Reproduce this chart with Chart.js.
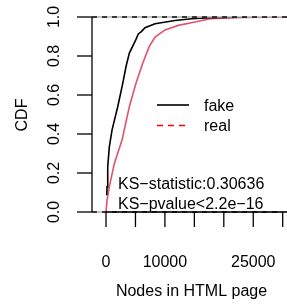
<!DOCTYPE html>
<html><head><meta charset="utf-8">
<script src="https://cdn.jsdelivr.net/npm/chart.js@4/dist/chart.umd.min.js"></script>
<style>html,body{margin:0;padding:0;background:#fff;}canvas{display:block;}</style>
</head><body>
<canvas id="c" width="287" height="305"></canvas>
<script>
// ---- data ----
const fakeNodes = [120, 170, 290, 560, 1020, 1500, 1990, 2840, 3400, 3960, 5090, 5480, 6000, 6620, 8320, 11720, 14550, 17660, 24000];
const fakeCdf   = [0.086, 0.129, 0.231, 0.334, 0.420, 0.480, 0.540, 0.660, 0.746, 0.815, 0.885, 0.913, 0.925, 0.945, 0.965, 0.982, 0.991, 0.997, 1.0];
const realNodes = [0, 170, 560, 1410, 2720, 3960, 5090, 6230, 7350, 8320, 10020, 12280, 15110, 17660, 23260, 32000];
const realCdf   = [0, 0.060, 0.129, 0.249, 0.369, 0.540, 0.660, 0.763, 0.849, 0.897, 0.934, 0.957, 0.974, 0.991, 0.998, 1.0];
const seriesNames = ['fake', 'real'];
const xTicks = [0, 5000, 10000, 15000, 20000, 25000, 30000];
const xTickLabels = ['0', '', '10000', '', '', '25000', ''];
const yTicks = [0, 0.2, 0.4, 0.6, 0.8, 1.0];
const yTickLabels = ['0.0', '0.2', '0.4', '0.6', '0.8', '1.0'];
const xTitle = 'Nodes in HTML page';
const yTitle = 'CDF';
const annotations = ['KS\u2212statistic:0.30636', 'KS\u2212pvalue<2.2e\u221216'];
const xRange = [-2380, 30730];
const yRange = [0, 1];

const FONT = '16px "Liberation Sans", Arial, Helvetica, sans-serif';
const RED = '#DF536B';

function seg(ctx, x1, y1, x2, y2) { ctx.beginPath(); ctx.moveTo(x1, y1); ctx.lineTo(x2, y2); ctx.stroke(); }

const rPlot = {
  id: 'rPlot',
  afterDatasetsDraw(chart) {
    const {ctx, chartArea: a, scales: {x, y}} = chart;
    ctx.save();
    // dashed reference lines at 0 and 1
    [0, 1].forEach(v => {
      const py = y.getPixelForValue(v);
      ctx.lineWidth = 1.4;
      ctx.setLineDash([]);
      ctx.strokeStyle = '#b3b3b3';
      seg(ctx, a.left, py, a.right, py);
      ctx.setLineDash([5, 5]);
      ctx.strokeStyle = '#000';
      seg(ctx, a.left, py, a.right, py);
    });
    ctx.setLineDash([]);
    ctx.strokeStyle = '#000';
    ctx.fillStyle = '#000';
    ctx.lineWidth = 1.3;
    ctx.font = FONT;
    // y axis
    const y0 = y.getPixelForValue(yTicks[0]), y1 = y.getPixelForValue(yTicks[yTicks.length - 1]);
    seg(ctx, a.left, y0, a.left, y1);
    yTicks.forEach((v, i) => {
      const py = y.getPixelForValue(v);
      seg(ctx, a.left - 15, py, a.left, py);
      ctx.save();
      ctx.translate(58.5, py);
      ctx.rotate(-Math.PI / 2);
      ctx.textAlign = 'center';
      ctx.textBaseline = 'alphabetic';
      ctx.fillText(yTickLabels[i], 0, 0);
      ctx.restore();
    });
    // x axis
    const xa = x.getPixelForValue(xTicks[0]), xb = x.getPixelForValue(xTicks[xTicks.length - 1]);
    const by = a.bottom;
    seg(ctx, xa, by, xb, by);
    xTicks.forEach((v, i) => {
      const px = x.getPixelForValue(v);
      seg(ctx, px, by, px, by + 15);
      if (xTickLabels[i]) {
        ctx.textAlign = 'center';
        ctx.textBaseline = 'alphabetic';
        ctx.fillText(xTickLabels[i], px, 266.5);
      }
    });
    // titles
    ctx.textAlign = 'center';
    ctx.fillText(xTitle, 191.5, 296);
    ctx.save();
    ctx.translate(26.5, 115);
    ctx.rotate(-Math.PI / 2);
    ctx.fillText(yTitle, 0, 0);
    ctx.restore();
    // legend
    ctx.lineWidth = 1.6;
    ctx.strokeStyle = '#000';
    seg(ctx, 157, 105, 189, 105);
    ctx.strokeStyle = '#ff0000';
    ctx.setLineDash([6, 5]);
    seg(ctx, 157, 125.5, 189, 125.5);
    ctx.setLineDash([]);
    ctx.textAlign = 'left';
    ctx.fillText(seriesNames[0], 204, 110.8);
    ctx.fillText(seriesNames[1], 204, 131);
    // KS annotations
    ctx.fillText(annotations[0], 118, 188.5);
    ctx.fillText(annotations[1], 118, 208.5);
    ctx.restore();
  }
};

new Chart(document.getElementById('c'), {
  type: 'scatter',
  data: {
    datasets: [
      {label: seriesNames[0], data: fakeNodes.map((v, i) => ({x: v, y: fakeCdf[i]})),
       showLine: true, borderColor: '#000', borderWidth: 1.6, pointRadius: 0, tension: 0},
      {label: seriesNames[1], data: realNodes.map((v, i) => ({x: v, y: realCdf[i]})),
       showLine: true, borderColor: RED, borderWidth: 1.6, pointRadius: 0, tension: 0}
    ]
  },
  options: {
    responsive: false,
    animation: false,
    devicePixelRatio: 1,
    layout: {padding: {left: 92, right: 0, top: 17, bottom: 93}},
    plugins: {legend: {display: false}, tooltip: {enabled: false}},
    scales: {
      x: {type: 'linear', min: xRange[0], max: xRange[1], display: false},
      y: {type: 'linear', min: yRange[0], max: yRange[1], display: false}
    }
  },
  plugins: [rPlot]
});
</script>
</body></html>
